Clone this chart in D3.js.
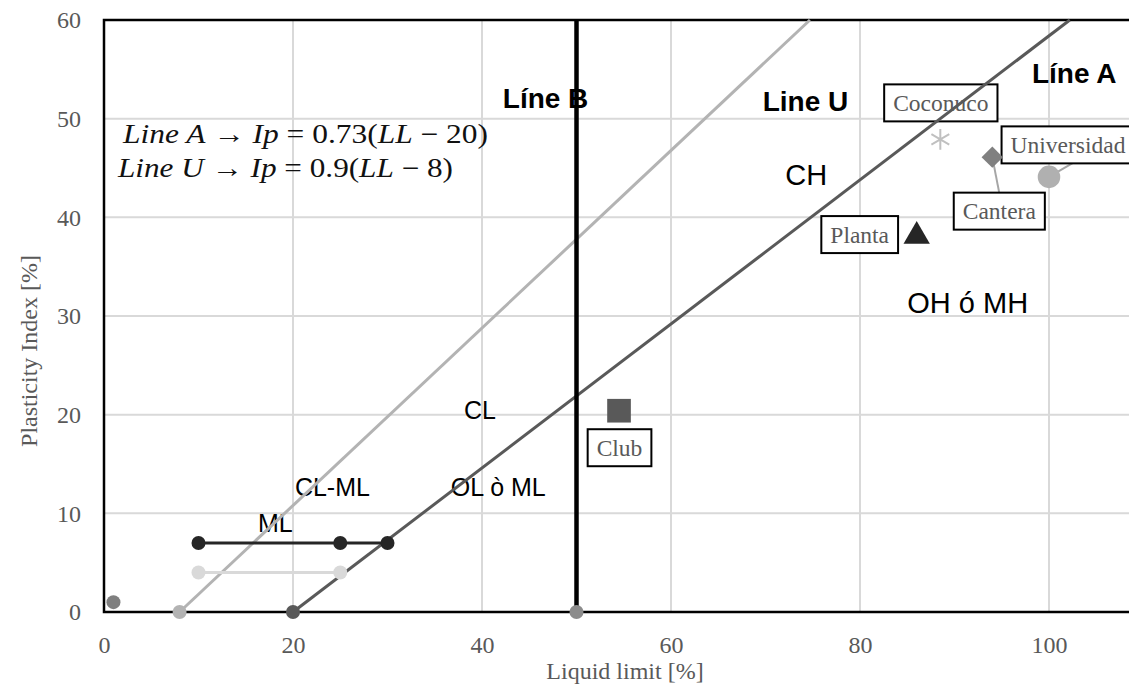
<!DOCTYPE html>
<html>
<head>
<meta charset="utf-8">
<script src="https://cdnjs.cloudflare.com/ajax/libs/d3/7.8.5/d3.min.js"></script>
<style>
  body { margin: 0; background: #fff; }
  svg { display: block; }
</style>
</head>
<body>
<div id="chart"></div>
<script>
// ---- data ----
const xTicks = [0, 20, 40, 60, 80, 100];
const yTicks = [0, 10, 20, 30, 40, 50, 60];

const lineU = [[8, 0], [74.7, 60]];
const lineA = [[20, 0], [102.2, 60]];
const lineB = [[50, 0], [50, 60]];
const mlLine = [[10, 7], [25, 7], [30, 7]];
const lowLine = [[10, 4], [25, 4]];
const loosePoint = [[1, 1]];

const sampleNames = ["Club", "Planta", "Coconuco", "Cantera", "Universidad"];
const sampleLL = [54.5, 86.0, 88.5, 94.0, 100.0];
const sampleIP = [20.4, 38.1, 47.9, 46.1, 44.1];

const zoneNames = ["Líne B", "Line U", "Líne A", "CH", "OH ó MH", "CL", "CL-ML", "OL ò ML", "ML"];
const zoneLL = [42.2, 69.7, 98.2, 72.1, 85.0, 38.1, 20.2, 36.7, 16.3];
const zoneIP = [51.1, 50.8, 53.6, 43.3, 30.3, 19.6, 11.75, 11.75, 8.1];

// ---- styles / layout ----
const W = 1129, H = 687;
const pxPerX = 9.45;
const x = d3.scaleLinear().domain([0, 110]).range([104, 104 + 110 * pxPerX]);
const y = d3.scaleLinear().domain([0, 60]).range([612, 20]);

const sampleStyle = {
    Club:        {shape: d3.symbolSquare,   size: 560, fill: "#595959", stroke: "none", rot: 0},
    Planta:      {shape: d3.symbolTriangle, size: 300, fill: "#262626", stroke: "none", rot: 0},
    Coconuco:    {shape: d3.symbolAsterisk, size: 300, fill: "none",    stroke: "#c0c0c0", rot: 0},
    Cantera:     {shape: d3.symbolSquare,   size: 230, fill: "#808080", stroke: "none", rot: 45},
    Universidad: {shape: d3.symbolCircle,   size: 400, fill: "#b0b0b0", stroke: "none", rot: 0}
};
// label box centre offset from the marker, in px
const labelOffset = {
    Club: [0.5, 37], Planta: [-57, -1.5], Coconuco: [0.5, -36.5],
    Cantera: [7, 54], Universidad: [19, -32]
};
const leaderEnd = {Cantera: [7, 36], Universidad: [24, -14]};
const zoneStyle = {
    "Líne B": {size: 28, weight: "bold"}, "Line U": {size: 28, weight: "bold"},
    "Líne A": {size: 28, weight: "bold"}, "CH": {size: 29, weight: "normal"},
    "OH ó MH": {size: 29, weight: "normal"}, "CL": {size: 25, weight: "normal"},
    "CL-ML": {size: 25, weight: "normal"}, "OL ò ML": {size: 25, weight: "normal"},
    "ML": {size: 25, weight: "normal"}
};

const svg = d3.select("#chart").append("svg")
    .attr("width", W)
    .attr("height", H);

// gridlines
svg.append("g").selectAll("line")
    .data(xTicks.filter(d => d > 0))
    .enter().append("line")
    .attr("x1", d => x(d)).attr("x2", d => x(d))
    .attr("y1", y(0)).attr("y2", y(60))
    .attr("stroke", "#d9d9d9").attr("stroke-width", 2);
svg.append("g").selectAll("line")
    .data(yTicks.filter(d => d > 0 && d < 60))
    .enter().append("line")
    .attr("x1", x(0)).attr("x2", W)
    .attr("y1", d => y(d)).attr("y2", d => y(d))
    .attr("stroke", "#d9d9d9").attr("stroke-width", 2);

// axes (labels only)
const xAxis = svg.append("g")
    .attr("transform", `translate(0,${y(0)})`)
    .call(d3.axisBottom(x).tickValues(xTicks).tickSize(0));
xAxis.select(".domain").remove();
xAxis.selectAll("text")
    .attr("y", 41).attr("dy", 0)
    .attr("font-family", "Liberation Serif").attr("font-size", 24).attr("fill", "#595959");

const yAxis = svg.append("g")
    .attr("transform", `translate(${x(0)},0)`)
    .call(d3.axisLeft(y).tickValues(yTicks).tickSize(0));
yAxis.select(".domain").remove();
yAxis.selectAll("text")
    .attr("x", -23).attr("dy", "0.33em")
    .attr("font-family", "Liberation Serif").attr("font-size", 24).attr("fill", "#595959");

// axis titles
svg.append("text")
    .attr("x", 625).attr("y", 679)
    .attr("text-anchor", "middle")
    .attr("font-family", "Liberation Serif").attr("font-size", 24).attr("fill", "#595959")
    .text("Liquid limit [%]");
svg.append("text")
    .attr("transform", "translate(37,351) rotate(-90)")
    .attr("text-anchor", "middle")
    .attr("font-family", "Liberation Serif").attr("font-size", 24).attr("fill", "#595959")
    .text("Plasticity Index [%]");

// frame
svg.append("path")
    .attr("d", `M${W},${y(60)}H${x(0)}V${y(0)}H${W}`)
    .attr("fill", "none").attr("stroke", "#000").attr("stroke-width", 2.5);

// formulas
const formulas = [
    {x: 123, y: 143, len: 365, parts: [["Line A", true], [" → ", false], ["Ip", true], [" = 0.73(", false], ["LL", true], [" − 20)", false]]},
    {x: 118, y: 177, len: 335, parts: [["Line U", true], [" → ", false], ["Ip", true], [" = 0.9(", false], ["LL", true], [" − 8)", false]]}
];
formulas.forEach(f => {
    const t = svg.append("text")
        .attr("x", f.x).attr("y", f.y)
        .attr("textLength", f.len).attr("lengthAdjust", "spacingAndGlyphs")
        .attr("font-family", "Liberation Serif").attr("font-size", 27).attr("fill", "#111");
    f.parts.forEach(p => t.append("tspan").attr("font-style", p[1] ? "italic" : "normal").text(p[0]));
});

// zone labels
svg.append("g").selectAll("text")
    .data(zoneNames)
    .enter().append("text")
    .attr("x", (d, i) => x(zoneLL[i]))
    .attr("y", (d, i) => y(zoneIP[i]))
    .attr("font-family", "Liberation Sans")
    .attr("font-size", d => zoneStyle[d].size)
    .attr("font-weight", d => zoneStyle[d].weight)
    .attr("fill", "#000")
    .text(d => d);

// sample label boxes with leaders
const samples = sampleNames.map((n, i) => ({name: n, ll: sampleLL[i], ip: sampleIP[i]}));
const labelG = svg.append("g");
samples.forEach(s => {
    const px = x(s.ll), py = y(s.ip);
    const cx = px + labelOffset[s.name][0], cy = py + labelOffset[s.name][1];
    const g = labelG.append("g");
    const txt = g.append("text")
        .attr("x", cx).attr("y", cy).attr("dy", "0.34em")
        .attr("text-anchor", "middle")
        .attr("font-family", "Liberation Serif").attr("font-size", 23.5).attr("fill", "#595959")
        .text(s.name);
    const w = txt.node().getComputedTextLength() + 18, h = 37;
    if (leaderEnd[s.name]) {
        g.insert("line", "text")
            .attr("x1", px).attr("y1", py)
            .attr("x2", px + leaderEnd[s.name][0]).attr("y2", py + leaderEnd[s.name][1])
            .attr("stroke", "#a6a6a6").attr("stroke-width", 2);
    }
    g.insert("rect", "text")
        .attr("x", cx - w / 2).attr("y", cy - h / 2)
        .attr("width", w).attr("height", h)
        .attr("fill", "#fff").attr("stroke", "#000").attr("stroke-width", 2);
});

// chart lines
const line = d3.line().x(d => x(d[0])).y(d => y(d[1]));
const series = [
    {pts: lineU, color: "#b3b3b3", width: 3, marker: [lineU[0]]},
    {pts: lineA, color: "#595959", width: 3, marker: [lineA[0]]},
    {pts: lowLine, color: "#d9d9d9", width: 3, marker: lowLine},
    {pts: mlLine, color: "#262626", width: 3, marker: mlLine},
    {pts: lineB, color: "#000", width: 4.5, marker: []}
];
series.forEach(s => {
    svg.append("path")
        .datum(s.pts)
        .attr("d", line)
        .attr("fill", "none")
        .attr("stroke", s.color).attr("stroke-width", s.width);
    svg.append("g").selectAll("circle")
        .data(s.marker)
        .enter().append("circle")
        .attr("cx", d => x(d[0])).attr("cy", d => y(d[1]))
        .attr("r", 7).attr("fill", s.color);
});
svg.append("circle")
    .attr("cx", x(lineB[0][0])).attr("cy", y(lineB[0][1]))
    .attr("r", 7).attr("fill", "#8c8c8c");
svg.append("g").selectAll("circle")
    .data(loosePoint)
    .enter().append("circle")
    .attr("cx", d => x(d[0])).attr("cy", d => y(d[1]))
    .attr("r", 7).attr("fill", "#7f7f7f");

// sample markers
svg.append("g").selectAll("path")
    .data(samples)
    .enter().append("path")
    .attr("transform", d => `translate(${x(d.ll)},${y(d.ip)}) rotate(${sampleStyle[d.name].rot})`)
    .attr("d", d => d3.symbol().type(sampleStyle[d.name].shape).size(sampleStyle[d.name].size)())
    .attr("fill", d => sampleStyle[d.name].fill)
    .attr("stroke", d => sampleStyle[d.name].stroke)
    .attr("stroke-width", 2);
</script>
</body>
</html>
